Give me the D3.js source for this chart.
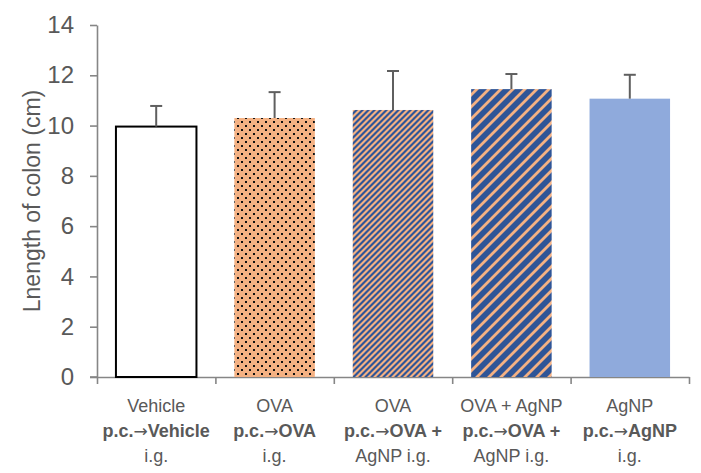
<!DOCTYPE html>
<html>
<head>
<meta charset="utf-8">
<script src="https://cdn.jsdelivr.net/npm/d3@7"></script>
<style>
  body { margin: 0; background: #fff; }
  text { fill: #595959; }
</style>
</head>
<body>
<div id="chart"></div>
<script>
// chart values
let groups = ["Vehicle", "OVA", "OVA+AgNP a", "OVA+AgNP b", "AgNP"];
let line1 = ["Vehicle", "OVA", "OVA", "OVA + AgNP", "AgNP"];
let line2 = ["Vehicle", "OVA", "OVA +", "OVA +", "AgNP"]; // after "p.c.→"
let line3 = ["i.g.", "i.g.", "AgNP i.g.", "AgNP i.g.", "i.g."];
let means = [9.96, 10.3, 10.62, 11.45, 11.07];
let errors = [0.82, 1.03, 1.55, 0.6, 0.95];
let fills = ["#ffffff", "url(#dots)", "url(#thin-stripes)", "url(#wide-stripes)", "#8faadc"];
let yTicks = [0, 2, 4, 6, 8, 10, 12, 14];

let width = 701, height = 473;
let margin = {top: 25, right: 12, bottom: 96, left: 97};

let svg = d3.select("#chart").append("svg")
  .attr("width", width)
  .attr("height", height);

let orange = "#f4b183", blue = "#2f5597";
let defs = svg.append("defs");

// dotted orange fill
let dots = defs.append("pattern").attr("id", "dots")
  .attr("patternUnits", "userSpaceOnUse").attr("width", 8).attr("height", 8);
dots.append("rect").attr("width", 8).attr("height", 8).attr("fill", orange);
dots.append("rect").attr("x", 1).attr("y", 1).attr("width", 2).attr("height", 2).attr("fill", "#111");
dots.append("rect").attr("x", 5).attr("y", 5).attr("width", 2).attr("height", 2).attr("fill", "#111");

// upward diagonal stripes: orange band of width w in a tile of size p
let stripes = (id, p, w) => {
  let pat = defs.append("pattern").attr("id", id)
    .attr("patternUnits", "userSpaceOnUse").attr("width", p).attr("height", p);
  pat.append("rect").attr("width", p).attr("height", p).attr("fill", blue);
  pat.append("path")
    .attr("d", `M0,0H${w}L0,${w}Z M0,${p}L${p},0V${w}L${w},${p}Z`)
    .attr("fill", orange);
};
stripes("thin-stripes", 6, 3);
stripes("wide-stripes", 12, 4);

let x = d3.scaleBand()
  .domain(groups)
  .range([margin.left, 689])
  .paddingInner(0.32)
  .paddingOuter(0.16);

let y = d3.scaleLinear()
  .domain([0, 14])
  .range([377, margin.top]);

// y axis
svg.append("g")
  .attr("transform", `translate(${margin.left},0)`)
  .call(d3.axisLeft(y).tickValues(yTicks).tickSize(7).tickSizeOuter(0).tickPadding(16))
  .call(g => g.selectAll("path, line").attr("stroke", "#868686").attr("stroke-width", 1.6))
  .call(g => g.selectAll("text")
    .attr("font-family", "'Liberation Sans Narrow', 'Liberation Sans', sans-serif")
    .attr("font-size", 24).attr("fill", "#646464"));

// x axis with ticks between categories
let bounds = d3.scaleLinear().domain([0, groups.length]).range(x.range());
svg.append("g")
  .attr("transform", `translate(0,${y(0)})`)
  .call(d3.axisBottom(bounds).tickValues(d3.range(groups.length + 1)).tickFormat("").tickSize(7).tickSizeOuter(0))
  .call(g => g.selectAll("path, line").attr("stroke", "#868686").attr("stroke-width", 1.6));
svg.append("line")
  .attr("x1", margin.left - 7).attr("x2", margin.left)
  .attr("y1", y(0)).attr("y2", y(0))
  .attr("stroke", "#868686").attr("stroke-width", 1.6);

// bars
svg.append("g").selectAll("rect")
  .data(groups)
  .enter()
  .append("rect")
  .attr("x", d => x(d))
  .attr("y", (d, i) => y(means[i]))
  .attr("width", x.bandwidth())
  .attr("height", (d, i) => y(0) - y(means[i]))
  .attr("fill", (d, i) => fills[i])
  .attr("stroke", (d, i) => i == 0 ? "#000" : "none")
  .attr("stroke-width", 2);

// error bars (plus side only)
let err = svg.append("g").attr("stroke", "#5f5f5f").attr("stroke-width", 2);
groups.forEach((d, i) => {
  let cx = x(d) + x.bandwidth() / 2;
  err.append("line")
    .attr("x1", cx).attr("x2", cx)
    .attr("y1", y(means[i])).attr("y2", y(means[i] + errors[i]));
  err.append("line")
    .attr("x1", cx - 6).attr("x2", cx + 6)
    .attr("y1", y(means[i] + errors[i])).attr("y2", y(means[i] + errors[i]));
});

// category labels
let labels = svg.append("g")
  .attr("font-family", "'Liberation Sans', sans-serif")
  .attr("font-size", 18)
  .attr("text-anchor", "middle");
groups.forEach((d, i) => {
  let cx = x(d) + x.bandwidth() / 2;
  labels.append("text").attr("x", cx).attr("y", 412).attr("fill", "#646464").text(line1[i]);
  let t2 = labels.append("text").attr("x", cx).attr("y", 437).attr("font-weight", "bold");
  t2.append("tspan").text("p.c.");
  t2.append("tspan").attr("font-family", "'DejaVu Sans', sans-serif").attr("font-weight", "normal").attr("font-size", 17).text("\u2192");
  t2.append("tspan").text(line2[i]);
  labels.append("text").attr("x", cx).attr("y", 462).attr("fill", "#646464").text(line3[i]);
});

// y title
svg.append("text")
  .attr("transform", `translate(40,${(y(0) + y(14)) / 2}) rotate(-90)`)
  .attr("text-anchor", "middle")
  .attr("font-family", "'Liberation Sans', sans-serif")
  .attr("font-size", 23)
  .attr("fill", "#646464")
  .text("Lnength of colon (cm)");
</script>
</body>
</html>
